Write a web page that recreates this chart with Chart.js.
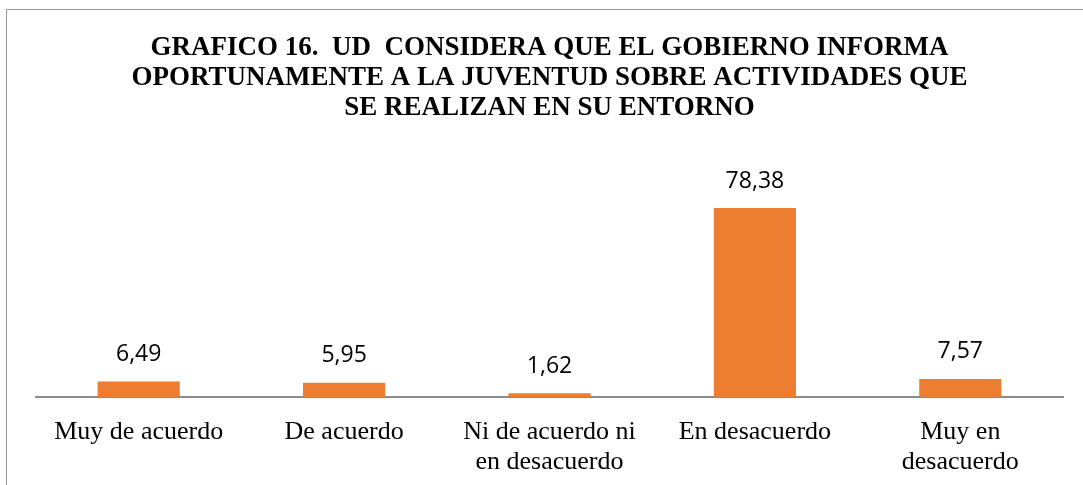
<!DOCTYPE html>
<html>
<head>
<meta charset="utf-8">
<script src="https://cdn.jsdelivr.net/npm/chart.js@4.4.1/dist/chart.umd.min.js"></script>
<style>
    html, body { margin: 0; padding: 0; background: #fff; }
    #marco {
        position: absolute; left: 0; top: 0; width: 1083px; height: 485px; overflow: hidden;
    }
    #borde {
        position: absolute; left: 6px; top: 9px; width: 1200px; height: 600px;
        border: 1px solid #9a9a9a; box-sizing: border-box;
    }
    #grafico { position: absolute; left: 0; top: 0; }
</style>
</head>
<body>
<div id="marco">
    <div id="borde"></div>
    <canvas id="grafico" width="1083" height="485"></canvas>
</div>
<script>
    // Datos del gráfico
    const categorias = [
        'Muy de acuerdo',
        'De acuerdo',
        ['Ni de acuerdo ni', 'en desacuerdo'],
        'En desacuerdo',
        ['Muy en', 'desacuerdo']
    ];
    const porcentajes = [6.49, 5.95, 1.62, 78.38, 7.57];
    const titulo = [
        'GRAFICO 16.  UD  CONSIDERA QUE EL GOBIERNO INFORMA',
        'OPORTUNAMENTE A LA JUVENTUD SOBRE ACTIVIDADES QUE',
        'SE REALIZAN EN SU ENTORNO'
    ];

    //Etiquetas de valor encima de cada barra
    const etiquetasValor = {
        id: 'etiquetasValor',
        afterDatasetsDraw(chart) {
            const ctx = chart.ctx;
            const meta = chart.getDatasetMeta(0);
            ctx.save();
            ctx.font = '23px "Open Sans"';
            ctx.fillStyle = '#000';
            ctx.textAlign = 'center';
            ctx.textBaseline = 'middle';
            meta.data.forEach((barra, i) => {
                const texto = porcentajes[i].toFixed(2).replace('.', ',');
                ctx.fillText(texto, barra.x, barra.y - 27);
            });
            ctx.restore();
        }
    };

    const elementoGrafico = document.getElementById('grafico');
    const grafico = new Chart(elementoGrafico, {
        type: 'bar',
        data: {
            labels: categorias,
            datasets: [{
                data: porcentajes,
                backgroundColor: '#ED7D31',
                categoryPercentage: 0.8,
                barPercentage: 0.5
            }]
        },
        options: {
            responsive: false,
            animation: false,
            layout: { padding: { left: 36, right: 20, top: 0, bottom: -4 } },
            plugins: {
                legend: { display: false },
                tooltip: { enabled: false },
                title: {
                    display: true,
                    text: titulo,
                    color: '#000',
                    font: { family: '"Liberation Serif"', size: 27, weight: 'bold', lineHeight: 1.11 },
                    padding: { top: 33, bottom: 57 }
                }
            },
            scales: {
                x: {
                    grid: { display: false },
                    border: { display: true, color: '#8c8c8c', width: 2 },
                    ticks: {
                        color: '#000',
                        font: { family: '"Liberation Serif"', size: 26, lineHeight: 1.15 },
                        padding: 12,
                        maxRotation: 0,
                        autoSkip: false
                    }
                },
                y: {
                    display: false,
                    min: 0,
                    max: 90
                }
            }
        },
        plugins: [etiquetasValor]
    });
</script>
</body>
</html>
